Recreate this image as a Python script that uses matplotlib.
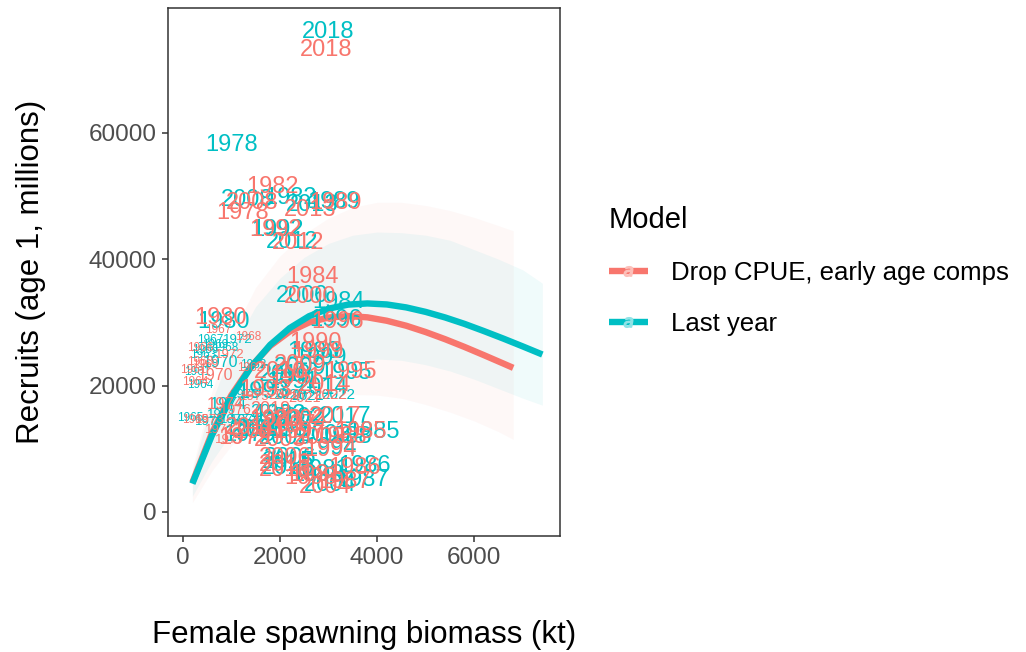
import numpy as np
import matplotlib.pyplot as plt
from matplotlib.lines import Line2D

plt.rcParams['font.family'] = ['Liberation Sans', 'DejaVu Sans']

# ---- data ----
years = list(range(1961, 2023))

# Drop CPUE, early age comps
ssb_drop = [212, 1385, 356, 253, 253, 356, 726, 1344, 459, 665,
            768, 973, 562, 871, 1488, 1076, 973, 1241, 1282, 768,
            2723, 1858, 1900, 2661, 3649, 3546, 3340, 3237, 3134, 2723,
            2311, 1900, 1694, 3031, 3443, 3196, 2414, 2620, 2784, 2620,
            1591, 2414, 2826, 2928, 2002, 2105, 2209, 1426, 2414, 2002,
            1385, 2373, 2620, 2928, 2105, 2105, 3134, 2949, 1797, 2105,
            2517, 3031]
rec_drop = [22460, 22780, 23730, 20570, 14550, 25940, 28790, 27690, 23260, 21670,
            12970, 24840, 14550, 16930, 18190, 16140, 11390, 47300, 11710, 30690,
            5850, 51420, 14550, 37180, 12660, 6960, 4750, 11870, 48880, 26740,
            21200, 44610, 19300, 9810, 22150, 30060, 12660, 5380, 25310, 34010,
            12660, 14550, 11710, 3960, 11390, 8540, 13760, 48880, 23260, 22150,
            13290, 42560, 47780, 20090, 7440, 6640, 15030, 73090, 16140, 18510,
            18030, 18510]

# Last year
ssb_last = [294, 1447, 418, 356, 150, 459, 562, 871, 665, 768,
            809, 1138, 562, 932, 1282, 1282, 1076, 1015, 1385, 850,
            2867, 2209, 2002, 3196, 3916, 3752, 3710, 3340, 3093, 2682,
            2250, 1941, 1632, 3031, 3340, 3155, 2311, 2784, 2826, 2455,
            1632, 2373, 2928, 3031, 2105, 2209, 2167, 1323, 2414, 2105,
            1488, 2250, 2661, 2867, 2167, 2167, 3340, 2990, 1797, 2209,
            2579, 3196]
rec_last = [22150, 23260, 24840, 20090, 14870, 25630, 27210, 25940, 26420, 23730,
            15350, 27210, 14240, 16930, 18510, 14550, 14550, 58060, 12180, 30060,
            6640, 49670, 15350, 33220, 12660, 7280, 5060, 11870, 49040, 25310,
            20570, 44610, 18980, 10120, 21990, 30370, 12970, 5850, 24360, 34170,
            12970, 14870, 12180, 4270, 11710, 8540, 14240, 49360, 22780, 21670,
            12970, 42710, 48570, 19620, 7910, 6960, 15030, 75940, 15820, 18510,
            18350, 18510]

# text size per year (pt)
label_pt = [8.5] * 9 + [11.5, 9.5, 9.5, 9.5, 12, 9.5, 10, 9.5] + [17] * 41 + [13, 10.5, 10.5, 11]

# fitted stock-recruit curves
fit_ssb_drop = [200, 600, 1000, 1400, 1800, 2200, 2600, 3000, 3400, 3800,
                4200, 4600, 5000, 5400, 5800, 6200, 6600, 6800]
fit_rec_drop = [4670, 12460, 18470, 22990, 26280, 28550, 29990, 30770, 31000, 30800,
                30260, 29470, 28470, 27340, 26110, 24810, 23480, 22810]
fit_ssb_last = [200, 600, 1000, 1400, 1800, 2200, 2600, 3000, 3400, 3800,
                4200, 4600, 5000, 5400, 5800, 6200, 6600, 7000, 7400]
fit_rec_last = [4480, 12100, 18140, 22870, 26450, 29090, 30980, 32170, 32810, 33000,
                32840, 32370, 31660, 30780, 29760, 28620, 27430, 26190, 24920]

# uncertainty bands
band_ssb_drop = [200, 600, 1000, 1500, 2000, 2500, 3000, 3500, 4000, 4500,
                 5000, 5500, 6000, 6500, 6800]
band_lo_drop = [1500, 6500, 10500, 13800, 16000, 17500, 18300, 18600, 18500, 18000,
                17000, 15800, 14400, 12700, 11500]
band_hi_drop = [7000, 19000, 28000, 35500, 40500, 44000, 46500, 48200, 49000, 49000,
                48500, 47700, 46600, 45300, 44500]
band_ssb_last = [200, 600, 1000, 1500, 2000, 2500, 3000, 3500, 4000, 4500,
                 5000, 5500, 6000, 6500, 7000, 7400]
band_lo_last = [2500, 8000, 12500, 17000, 20000, 22000, 23300, 24000, 24200, 24000,
                23300, 22300, 21000, 19500, 18000, 16900]
band_hi_last = [6500, 17500, 25500, 32500, 37000, 40300, 42500, 43800, 44300, 44200,
                43800, 43000, 41500, 40000, 38300, 36200]

col_drop = '#F8766D'
col_last = '#00BFC4'

fig = plt.figure(figsize=(10.26, 6.52), dpi=100)
ax = fig.add_axes([168 / 1026, 1 - 536 / 652, 392 / 1026, 528 / 652])

ax.fill_between(band_ssb_drop, band_lo_drop, band_hi_drop, color=col_drop, alpha=0.05, lw=0)
ax.fill_between(band_ssb_last, band_lo_last, band_hi_last, color=col_last, alpha=0.06, lw=0)

for yr, s, r, pt in zip(years, ssb_last, rec_last, label_pt):
    ax.text(s, r, str(yr), color=col_last, fontsize=pt, ha='center', va='center')
for yr, s, r, pt in zip(years, ssb_drop, rec_drop, label_pt):
    ax.text(s, r, str(yr), color=col_drop, fontsize=pt, ha='center', va='center')

ax.plot(fit_ssb_drop, fit_rec_drop, color=col_drop, lw=4.6, solid_capstyle='butt')
ax.plot(fit_ssb_last, fit_rec_last, color=col_last, lw=4.6, solid_capstyle='butt')

ax.set_xlim(-302, 7763)
ax.set_ylim(-3800, 79750)
ax.set_xticks([0, 2000, 4000, 6000])
ax.set_yticks([0, 20000, 40000, 60000])
ax.tick_params(colors='#333333', labelcolor='#4D4D4D', labelsize=17.5, length=4.5, width=1.1)
for sp in ax.spines.values():
    sp.set_color('#333333')
    sp.set_linewidth(1.1)

ax.set_xlabel('Female spawning biomass (kt)', fontsize=22.5, labelpad=37)
ax.set_ylabel('Recruits (age 1, millions)', fontsize=22.5, labelpad=31)

handles = [Line2D([], [], color=col_drop, lw=4.6, solid_capstyle='butt', marker='$a$',
                  markersize=7, markerfacecolor='#fcc0ba', markeredgecolor='#fcc0ba'),
           Line2D([], [], color=col_last, lw=4.6, solid_capstyle='butt', marker='$a$',
                  markersize=7, markerfacecolor='#8fe3e6', markeredgecolor='#8fe3e6')]
leg = fig.legend(handles, ['Drop CPUE, early age comps', 'Last year'],
                 loc='upper left', bbox_to_anchor=(609 / 1026, 1 - 206 / 652),
                 frameon=False, title='Model', title_fontsize=21, fontsize=18.5,
                 handlelength=1.5, handletextpad=0.9, labelspacing=1.05,
                 borderpad=0, borderaxespad=0, alignment='left')

fig.savefig('out.png', dpi=100)
